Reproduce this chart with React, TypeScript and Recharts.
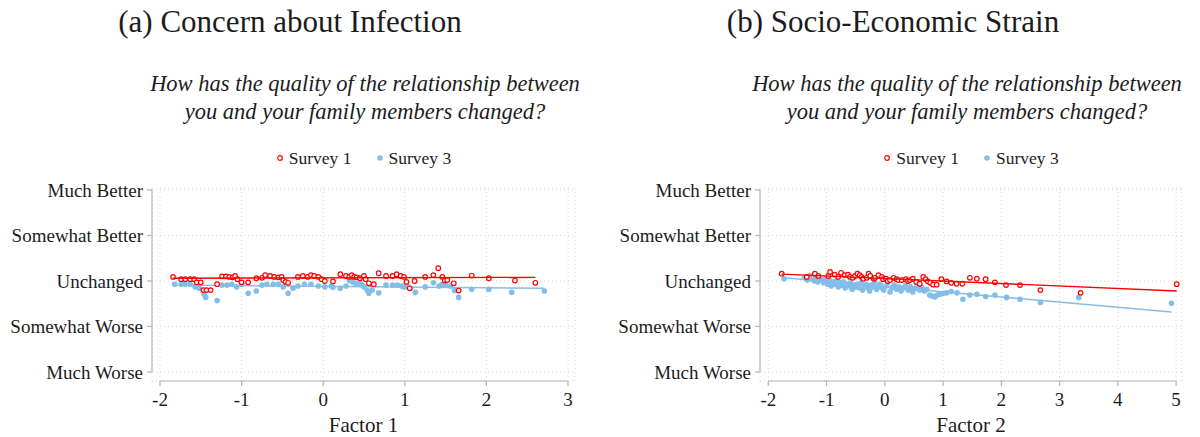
import {
  CartesianGrid,
  Legend,
  ReferenceLine,
  Scatter,
  ScatterChart,
  XAxis,
  YAxis,
} from 'recharts';

const RED = '#ff0000';
const BLUE = '#84bde8';
const INK = '#1c1c1c';
const AXIS = '#b4b4b4';
const GRID = '#d6d6d6';
const FONT = '"Liberation Serif", "Times New Roman", serif';

// Response scale: Unchanged = 0, one step per category.
const Y_TICKS = [-2, -1, 0, 1, 2];
const Y_LABELS = ['Much Worse', 'Somewhat Worse', 'Unchanged', 'Somewhat Better', 'Much Better'];
const SERIES = ['Survey 1', 'Survey 3'];
const SUBTITLE = [
  'How has the quality of the relationship between',
  'you and your family members changed?',
];

// (a) Concern about Infection — [factor score, mean response]
const A_TICKS = [-2, -1, 0, 1, 2, 3];
const A_S1: [number, number][] = [
  [-1.84, 0.09], [-1.74, 0.04], [-1.69, 0.04], [-1.63, 0.04], [-1.58, 0.04], [-1.55, -0.03],
  [-1.5, -0.03], [-1.47, -0.2], [-1.43, -0.2], [-1.38, -0.2], [-1.3, -0.07], [-1.24, 0.1],
  [-1.19, 0.1], [-1.15, 0.09], [-1.11, 0.08], [-1.08, 0.11], [-1.05, 0.04], [-1.0, -0.03],
  [-0.92, -0.03], [-0.82, 0.06], [-0.75, 0.07], [-0.71, 0.13], [-0.65, 0.11], [-0.6, 0.09],
  [-0.55, 0.08], [-0.51, 0.09], [-0.49, 0.02], [-0.46, -0.02], [-0.43, -0.04], [-0.31, 0.09],
  [-0.25, 0.11], [-0.19, 0.09], [-0.15, 0.13], [-0.11, 0.11], [-0.06, 0.09], [-0.02, 0.04],
  [0.02, 0.0], [0.12, -0.01], [0.21, 0.15], [0.28, 0.11], [0.32, 0.09], [0.35, 0.13],
  [0.38, 0.09], [0.41, 0.08], [0.45, 0.06], [0.5, 0.11], [0.52, 0.04], [0.56, -0.05],
  [0.62, -0.07], [0.68, 0.17], [0.77, 0.11], [0.85, 0.11], [0.9, 0.15], [0.95, 0.11],
  [0.99, 0.09], [1.02, -0.02], [1.06, -0.16], [1.12, 0.0], [1.25, 0.09], [1.35, 0.13],
  [1.41, 0.28], [1.46, 0.09], [1.49, 0.01], [1.52, 0.02], [1.6, -0.05], [1.66, -0.21],
  [1.82, 0.12], [2.03, 0.06], [2.35, 0.01], [2.6, -0.04],
];
const A_S3: [number, number][] = [
  [-1.82, -0.07], [-1.74, -0.07], [-1.69, -0.07], [-1.63, -0.07], [-1.57, -0.13], [-1.52, -0.16],
  [-1.46, -0.29], [-1.44, -0.36], [-1.3, -0.43], [-1.24, -0.09], [-1.18, -0.09], [-1.12, -0.07],
  [-1.06, -0.13], [-1.0, -0.07], [-0.92, -0.27], [-0.82, -0.22], [-0.75, -0.09], [-0.69, -0.07],
  [-0.61, -0.07], [-0.55, -0.07], [-0.49, -0.13], [-0.43, -0.27], [-0.37, -0.16], [-0.31, -0.11],
  [-0.23, -0.07], [-0.15, -0.07], [-0.06, -0.11], [0.02, -0.13], [0.1, -0.11], [0.12, -0.14],
  [0.21, -0.16], [0.28, -0.11], [0.32, 0.01], [0.36, -0.02], [0.39, -0.05], [0.42, -0.07],
  [0.45, -0.05], [0.48, -0.09], [0.5, -0.13], [0.54, -0.21], [0.56, -0.27], [0.6, -0.2],
  [0.68, -0.26], [0.77, -0.09], [0.85, -0.09], [0.91, -0.09], [0.96, -0.11], [0.99, -0.13],
  [1.04, -0.13], [1.07, -0.16], [1.13, -0.25], [1.25, -0.13], [1.35, -0.04], [1.42, -0.11],
  [1.46, -0.07], [1.5, -0.09], [1.56, -0.11], [1.61, -0.21], [1.66, -0.36], [1.82, -0.18],
  [2.03, -0.18], [2.31, -0.25], [2.71, -0.22],
];
const A_FIT_S1: [number, number][] = [[-1.84, 0.06], [2.6, 0.08]];
const A_FIT_S3: [number, number][] = [[-1.82, -0.09], [2.71, -0.16]];

// (b) Socio-Economic Strain
const B_TICKS = [-2, -1, 0, 1, 2, 3, 4, 5];
const B_S1: [number, number][] = [
  [-1.77, 0.16], [-1.34, 0.09], [-1.2, 0.16], [-1.14, 0.11], [-0.97, 0.11], [-0.94, 0.2],
  [-0.86, 0.14], [-0.8, 0.09], [-0.75, 0.18], [-0.69, 0.13], [-0.63, 0.14], [-0.6, 0.09],
  [-0.55, 0.07], [-0.51, 0.11], [-0.47, 0.16], [-0.43, 0.13], [-0.4, 0.09], [-0.37, 0.05],
  [-0.31, 0.07], [-0.28, 0.16], [-0.25, 0.11], [-0.19, 0.05], [-0.17, 0.07], [-0.11, 0.13],
  [-0.05, 0.09], [-0.03, 0.04], [0.02, 0.05], [0.05, 0.0], [0.09, 0.02], [0.15, 0.07],
  [0.2, 0.04], [0.23, 0.02], [0.29, 0.02], [0.36, 0.04], [0.4, 0.0], [0.43, 0.02],
  [0.48, 0.05], [0.54, -0.02], [0.6, -0.06], [0.66, 0.09], [0.7, 0.04], [0.74, -0.01],
  [0.78, -0.04], [0.83, -0.08], [0.89, -0.08], [0.97, 0.04], [1.06, -0.01], [1.14, -0.04],
  [1.23, -0.06], [1.33, -0.06], [1.46, 0.07], [1.58, 0.05], [1.73, 0.04], [1.89, -0.03],
  [2.08, -0.09], [2.32, -0.09], [2.67, -0.2], [3.36, -0.26], [5.01, -0.07],
];
const B_S3: [number, number][] = [
  [-1.73, 0.05], [-1.38, 0.07], [-1.33, 0.02], [-1.29, 0.12], [-1.25, 0.04], [-1.21, 0.0],
  [-1.18, 0.09], [-1.15, -0.02], [-1.12, 0.05], [-1.08, 0.02], [-1.05, -0.04], [-1.02, 0.04],
  [-0.98, -0.07], [-0.95, 0.02], [-0.92, -0.11], [-0.89, -0.02], [-0.86, -0.07], [-0.83, 0.0],
  [-0.8, -0.13], [-0.77, -0.04], [-0.74, -0.09], [-0.71, -0.02], [-0.68, -0.15], [-0.65, -0.07],
  [-0.62, -0.11], [-0.59, -0.04], [-0.56, -0.18], [-0.53, -0.09], [-0.5, -0.13], [-0.47, -0.07],
  [-0.44, -0.15], [-0.41, -0.04], [-0.38, -0.2], [-0.35, -0.11], [-0.32, -0.07], [-0.29, -0.15],
  [-0.26, -0.22], [-0.23, -0.09], [-0.2, -0.13], [-0.17, -0.04], [-0.14, -0.18], [-0.11, -0.11],
  [-0.08, -0.07], [-0.05, -0.15], [-0.02, -0.2], [0.02, -0.11], [0.05, -0.04], [0.09, -0.24],
  [0.12, -0.15], [0.16, -0.09], [0.2, -0.18], [0.24, -0.13], [0.28, -0.22], [0.32, -0.15],
  [0.36, -0.09], [0.4, -0.2], [0.44, -0.13], [0.48, -0.24], [0.52, -0.16], [0.56, -0.11],
  [0.6, -0.2], [0.64, -0.15], [0.68, -0.22], [0.72, -0.18], [0.77, -0.31], [0.81, -0.33],
  [0.86, -0.35], [0.9, -0.31], [0.95, -0.29], [1.0, -0.27], [1.06, -0.26], [1.14, -0.23],
  [1.24, -0.26], [1.34, -0.4], [1.46, -0.31], [1.58, -0.29], [1.73, -0.34], [1.89, -0.31],
  [2.09, -0.36], [2.32, -0.4], [2.67, -0.47], [3.33, -0.36], [4.92, -0.49],
];
const B_FIT_S1: [number, number][] = [[-1.77, 0.15], [5.01, -0.22]];
const B_FIT_S3: [number, number][] = [[-1.73, 0.07], [4.92, -0.68]];

const W = 600;
const H = 437;
const TOP = 188;
const X_AXIS_H = 56;
const PAD_TOP = 2;
const PAD_BOTTOM = 9;

const toPts = (arr: [number, number][]) => arr.map(([x, y]) => ({ x, y }));

const HollowDot = (p: any) => (
  <circle cx={p.cx} cy={p.cy} r={2.3} fill="#fff" stroke={RED} strokeWidth={1.2} />
);
const SolidDot = (p: any) => <circle cx={p.cx} cy={p.cy} r={2.8} fill={BLUE} />;
const NoDot = () => <g />;

function LegendRow(props: any) {
  const items = (props.payload ?? [])
    .filter((p: any) => SERIES.includes(p.value))
    .sort((a: any, b: any) => String(a.value).localeCompare(String(b.value)));
  return (
    <div
      style={{
        display: 'flex',
        justifyContent: 'center',
        alignItems: 'center',
        fontSize: 17.5,
        lineHeight: '20px',
        color: INK,
        fontFamily: FONT,
      }}
    >
      {items.map((it: any, i: number) => (
        <span
          key={it.value}
          style={{ display: 'flex', alignItems: 'center', marginLeft: i ? 24 : 0 }}
        >
          <svg width={8} height={8} style={{ marginRight: 5 }}>
            {it.value === SERIES[0] ? (
              <circle cx={4} cy={4} r={2.3} fill="#fff" stroke={RED} strokeWidth={1.2} />
            ) : (
              <circle cx={4} cy={4} r={2.8} fill={BLUE} />
            )}
          </svg>
          {it.value}
        </span>
      ))}
    </div>
  );
}

interface PanelProps {
  title: string;
  titleX: number;
  subtitleX: number;
  xLabel: string;
  xTicks: number[];
  s1: [number, number][];
  s3: [number, number][];
  fit1: [number, number][];
  fit3: [number, number][];
  yAxisW: number;
  padLeft: number;
  padRight: number;
  marginRight: number;
}

function Panel(p: PanelProps) {
  const xMin = p.xTicks[0];
  const xMax = p.xTicks[p.xTicks.length - 1];
  const plotW = W - p.yAxisW - p.marginRight;
  const pxX = (plotW - p.padLeft - p.padRight) / (xMax - xMin);
  const pxY = (H - X_AXIS_H - TOP - PAD_TOP - PAD_BOTTOM) / 4;
  const axisY = -2 - PAD_BOTTOM / pxY;
  const axisX = xMin - p.padLeft / pxX;

  return (
    <div style={{ position: 'relative', width: W, height: H, fontFamily: FONT, color: INK }}>
      <div
        style={{
          position: 'absolute',
          top: 5.5,
          left: p.titleX - 300,
          width: 600,
          textAlign: 'center',
          fontSize: 31,
          lineHeight: '31px',
          whiteSpace: 'nowrap',
        }}
      >
        {p.title}
      </div>
      <div
        style={{
          position: 'absolute',
          top: 70.4,
          left: p.subtitleX - 300,
          width: 600,
          textAlign: 'center',
          fontSize: 22.5,
          lineHeight: '28px',
          fontStyle: 'italic',
          whiteSpace: 'nowrap',
        }}
      >
        {SUBTITLE.map((s) => (
          <div key={s}>{s}</div>
        ))}
      </div>
      <div style={{ position: 'absolute', left: 0, top: 0 }}>
        <ScatterChart
          width={W}
          height={H}
          margin={{ top: TOP, right: p.marginRight, bottom: 0, left: 0 }}
        >
          <CartesianGrid stroke={GRID} strokeDasharray="1 3" />
          <XAxis
            type="number"
            dataKey="x"
            domain={[xMin, xMax]}
            ticks={p.xTicks}
            interval={0}
            padding={{ left: p.padLeft, right: p.padRight }}
            height={X_AXIS_H}
            axisLine={false}
            tickLine={{ stroke: AXIS, strokeWidth: 1.2 }}
            tickSize={5}
            tickMargin={7}
            tick={{ fill: INK, fontSize: 19 }}
            label={{ value: p.xLabel, position: 'insideBottom', offset: 5, fill: INK, fontSize: 21 }}
          />
          <YAxis
            type="number"
            dataKey="y"
            domain={[-2, 2]}
            ticks={Y_TICKS}
            interval={0}
            padding={{ top: PAD_TOP, bottom: PAD_BOTTOM }}
            width={p.yAxisW}
            axisLine={false}
            tickLine={{ stroke: AXIS, strokeWidth: 1.2 }}
            tickSize={5}
            tickMargin={4}
            tick={{ fill: INK, fontSize: 19 }}
            tickFormatter={(v: number) => Y_LABELS[Y_TICKS.indexOf(v)] ?? ''}
          />
          <ReferenceLine
            segment={[{ x: xMin, y: axisY }, { x: xMax, y: axisY }]}
            stroke={AXIS}
            strokeWidth={1.2}
            ifOverflow="visible"
          />
          <ReferenceLine
            segment={[{ x: axisX, y: -2 }, { x: axisX, y: 2 }]}
            stroke={AXIS}
            strokeWidth={1.2}
            ifOverflow="visible"
          />
          <Legend
            verticalAlign="middle"
            align="center"
            wrapperStyle={{ top: 148, left: p.yAxisW, width: plotW }}
            content={LegendRow}
          />
          <Scatter
            name={SERIES[1]}
            data={toPts(p.s3)}
            fill={BLUE}
            shape={SolidDot}
            isAnimationActive={false}
          />
          <Scatter
            name="fit3"
            legendType="none"
            data={toPts(p.fit3)}
            fill={BLUE}
            shape={NoDot}
            line={{ stroke: BLUE, strokeWidth: 1.4 }}
            isAnimationActive={false}
          />
          <Scatter
            name={SERIES[0]}
            data={toPts(p.s1)}
            fill={RED}
            shape={HollowDot}
            isAnimationActive={false}
          />
          <Scatter
            name="fit1"
            legendType="none"
            data={toPts(p.fit1)}
            fill={RED}
            shape={NoDot}
            line={{ stroke: RED, strokeWidth: 1.4 }}
            isAnimationActive={false}
          />
        </ScatterChart>
      </div>
    </div>
  );
}

export default function App() {
  return (
    <div
      style={{
        position: 'absolute',
        left: 0,
        top: 0,
        width: 1200,
        height: 437,
        background: '#fff',
        display: 'flex',
      }}
    >
      <Panel
        title="(a) Concern about Infection"
        titleX={290}
        subtitleX={365}
        xLabel="Factor 1"
        xTicks={A_TICKS}
        s1={A_S1}
        s3={A_S3}
        fit1={A_FIT_S1}
        fit3={A_FIT_S3}
        yAxisW={152}
        padLeft={8}
        padRight={7}
        marginRight={25}
      />
      <Panel
        title="(b) Socio-Economic Strain"
        titleX={293}
        subtitleX={367}
        xLabel="Factor 2"
        xTicks={B_TICKS}
        s1={B_S1}
        s3={B_S3}
        fit1={B_FIT_S1}
        fit3={B_FIT_S3}
        yAxisW={160}
        padLeft={8.3}
        padRight={5.3}
        marginRight={18}
      />
    </div>
  );
}
